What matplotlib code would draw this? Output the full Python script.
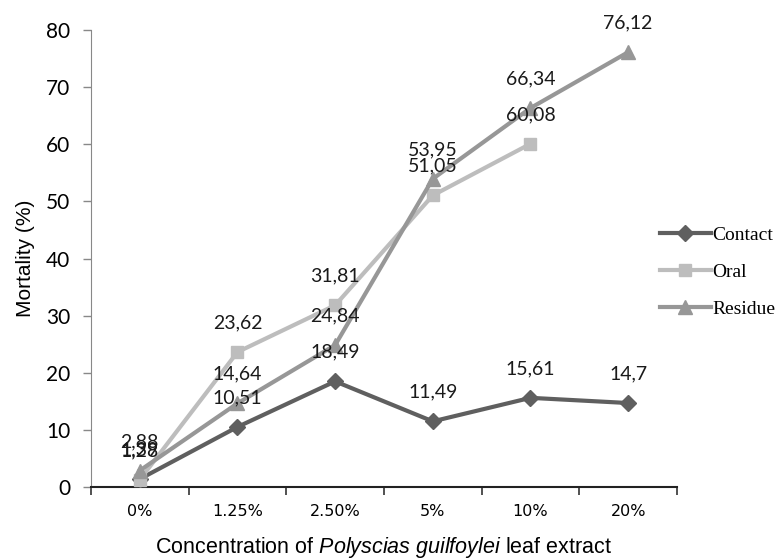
import matplotlib
matplotlib.use("Agg")
import matplotlib.pyplot as plt
from matplotlib.ticker import FixedLocator, NullFormatter

plt.rcParams["mathtext.fontset"] = "custom"
plt.rcParams["mathtext.rm"] = "Liberation Sans"
plt.rcParams["mathtext.it"] = "Liberation Sans:italic"

categories = ["0%", "1.25%", "2.50%", "5%", "10%", "20%"]
contact = [1.39, 10.51, 18.49, 11.49, 15.61, 14.70]
oral = [1.28, 23.62, 31.81, 51.05, 60.08, None]
residue = [2.88, 14.64, 24.84, 53.95, 66.34, 76.12]

series = [
    ("Contact", contact, "#5f5f5f", "D", 8),
    ("Oral", oral, "#bdbdbd", "s", 9),
    ("Residue", residue, "#979797", "^", 10),
]

fig = plt.figure(figsize=(7.84, 5.59), dpi=100)
ax = fig.add_axes([0.116, 0.1288, 0.7475, 0.8175])

x = list(range(len(categories)))
handles = []
for name, vals, col, mk, ms in series:
    xs = [xi for xi, v in zip(x, vals) if v is not None]
    ys = [v for v in vals if v is not None]
    h, = ax.plot(xs, ys, color=col, lw=3, marker=mk, markersize=ms,
                 markerfacecolor=col, markeredgecolor=col, label=name, zorder=3)
    handles.append(h)
    for xi, yi in zip(xs, ys):
        lbl = f"{yi:.2f}".rstrip("0").rstrip(".").replace(".", ",")
        ax.annotate(lbl, (xi, yi), xytext=(0, 21), textcoords="offset points",
                    ha="center", va="center", fontsize=14, family="Lato",
                    color="#1a1a1a", zorder=4)

ax.set_xlim(-0.5, 5.5)
ax.set_ylim(0, 80)
ax.set_yticks(range(0, 81, 10))
ax.tick_params(axis="y", labelsize=15, length=6, pad=9, color="#888888", width=1)
for t in ax.get_yticklabels():
    t.set_family("Lato")
ax.xaxis.set_major_locator(FixedLocator([i + 0.5 for i in range(-1, 6)]))
ax.xaxis.set_major_formatter(NullFormatter())
ax.xaxis.set_minor_locator(FixedLocator(x))
ax.set_xticklabels(categories, minor=True)
ax.tick_params(axis="x", which="major", length=6, color="#333333", width=1.2)
ax.tick_params(axis="x", which="minor", length=0, pad=12, labelsize=11.5)
for t in ax.get_xticklabels(minor=True):
    t.set_family("DejaVu Sans")

for s in ["top", "right"]:
    ax.spines[s].set_visible(False)
ax.spines["left"].set_color("#888888")
ax.spines["bottom"].set_color("#222222")
ax.spines["bottom"].set_linewidth(1.5)

ax.set_ylabel("Mortality (%)", fontsize=15, family="Liberation Sans", labelpad=8)
ax.set_xlabel("Concentration of $Polyscias\\ guilfoylei$ leaf extract",
              fontsize=15.5, family="Liberation Sans", labelpad=12)

fig.legend(handles=handles, loc="center left", bbox_to_anchor=(0.832, 0.513),
           frameon=False, prop={"family": "Liberation Serif", "size": 14},
           handlelength=2.6, handletextpad=0.1, labelspacing=1.0,
           borderaxespad=0)

fig.savefig("out.png", dpi=100)
